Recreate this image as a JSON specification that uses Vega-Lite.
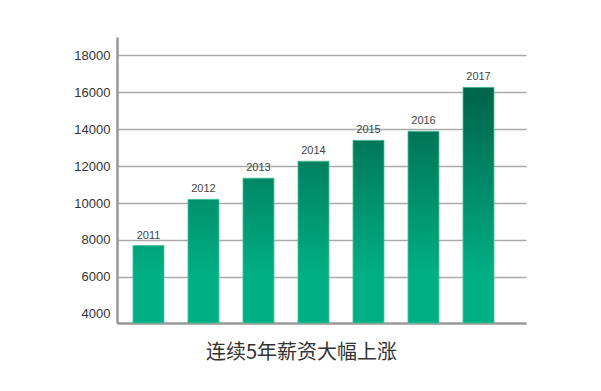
{
  "$schema": "https://vega.github.io/schema/vega-lite/v6.json",
  "width": 409,
  "height": 286,
  "autosize": {"type": "none"},
  "padding": {"left": 117, "top": 37, "right": 75, "bottom": 68},
  "background": "#ffffff",
  "title": {
    "text": "连续5年薪资大幅上涨",
    "orient": "bottom",
    "anchor": "middle",
    "dx": -20,
    "offset": 20,
    "font": "Noto Sans CJK SC",
    "fontSize": 20,
    "fontWeight": "normal",
    "color": "#333333"
  },
  "data": {
    "values": [
      {"year": "2011", "salary": 7700},
      {"year": "2012", "salary": 10200},
      {"year": "2013", "salary": 11350},
      {"year": "2014", "salary": 12270},
      {"year": "2015", "salary": 13400},
      {"year": "2016", "salary": 13890},
      {"year": "2017", "salary": 16270}
    ]
  },
  "encoding": {
    "x": {
      "field": "year",
      "type": "nominal",
      "scale": {"paddingInner": 0.436, "paddingOuter": 0.436, "align": 0.333},
      "axis": {
        "title": null,
        "labels": false,
        "ticks": false,
        "domainColor": "#999999",
        "domainWidth": 2.5,
        "grid": false
      }
    },
    "y": {
      "field": "salary",
      "type": "quantitative",
      "scale": {"domain": [3500, 19000], "zero": false, "nice": false},
      "axis": {
        "title": null,
        "values": [4000, 6000, 8000, 10000, 12000, 14000, 16000, 18000],
        "format": "d",
        "ticks": false,
        "labelPadding": 7,
        "labelFont": "Liberation Sans",
        "labelFontSize": 13,
        "labelColor": "#333333",
        "domainColor": "#999999",
        "domainWidth": 2.5,
        "grid": true,
        "gridColor": {"condition": {"test": "datum.value === 4000", "value": "transparent"}, "value": "#aaaaaa"},
        "gridWidth": 1.5
      }
    },
    "y2": {"datum": 3500}
  },
  "layer": [
    {
      "transform": [{"filter": "datum.year === '2011'"}],
      "mark": {"type": "bar", "stroke": "#4cc49c", "strokeWidth": 0.8,
        "color": {"gradient": "linear", "x1": 0, "y1": 1, "x2": 0, "y2": 0, "stops": [{"offset": 0, "color": "#00b084"}, {"offset": 0.595, "color": "#00b084"}, {"offset": 1, "color": "#00a37a"}]}}
    },
    {
      "transform": [{"filter": "datum.year === '2012'"}],
      "mark": {"type": "bar", "stroke": "#4cc49c", "strokeWidth": 0.8,
        "color": {"gradient": "linear", "x1": 0, "y1": 1, "x2": 0, "y2": 0, "stops": [{"offset": 0, "color": "#00b084"}, {"offset": 0.373, "color": "#00b084"}, {"offset": 1, "color": "#00916c"}]}}
    },
    {
      "transform": [{"filter": "datum.year === '2013'"}],
      "mark": {"type": "bar", "stroke": "#4cc49c", "strokeWidth": 0.8,
        "color": {"gradient": "linear", "x1": 0, "y1": 1, "x2": 0, "y2": 0, "stops": [{"offset": 0, "color": "#00b084"}, {"offset": 0.318, "color": "#00b084"}, {"offset": 1, "color": "#008865"}]}}
    },
    {
      "transform": [{"filter": "datum.year === '2014'"}],
      "mark": {"type": "bar", "stroke": "#4cc49c", "strokeWidth": 0.8,
        "color": {"gradient": "linear", "x1": 0, "y1": 1, "x2": 0, "y2": 0, "stops": [{"offset": 0, "color": "#00b084"}, {"offset": 0.285, "color": "#00b084"}, {"offset": 1, "color": "#008160"}]}}
    },
    {
      "transform": [{"filter": "datum.year === '2015'"}],
      "mark": {"type": "bar", "stroke": "#4cc49c", "strokeWidth": 0.8,
        "color": {"gradient": "linear", "x1": 0, "y1": 1, "x2": 0, "y2": 0, "stops": [{"offset": 0, "color": "#00b084"}, {"offset": 0.2525, "color": "#00b084"}, {"offset": 1, "color": "#00785a"}]}}
    },
    {
      "transform": [{"filter": "datum.year === '2016'"}],
      "mark": {"type": "bar", "stroke": "#4cc49c", "strokeWidth": 0.8,
        "color": {"gradient": "linear", "x1": 0, "y1": 1, "x2": 0, "y2": 0, "stops": [{"offset": 0, "color": "#00b084"}, {"offset": 0.2406, "color": "#00b084"}, {"offset": 1, "color": "#007556"}]}}
    },
    {
      "transform": [{"filter": "datum.year === '2017'"}],
      "mark": {"type": "bar", "stroke": "#4cc49c", "strokeWidth": 0.8,
        "color": {"gradient": "linear", "x1": 0, "y1": 1, "x2": 0, "y2": 0, "stops": [{"offset": 0, "color": "#00b084"}, {"offset": 0.196, "color": "#00b084"}, {"offset": 0.979, "color": "#00654a"}, {"offset": 1, "color": "#00654a"}]}}
    },
    {
      "mark": {"type": "text", "dy": -10, "font": "Liberation Sans", "fontSize": 11, "color": "#444444"},
      "encoding": {"text": {"field": "year"}, "y2": null}
    }
  ],
  "config": {"view": {"stroke": null}}
}
